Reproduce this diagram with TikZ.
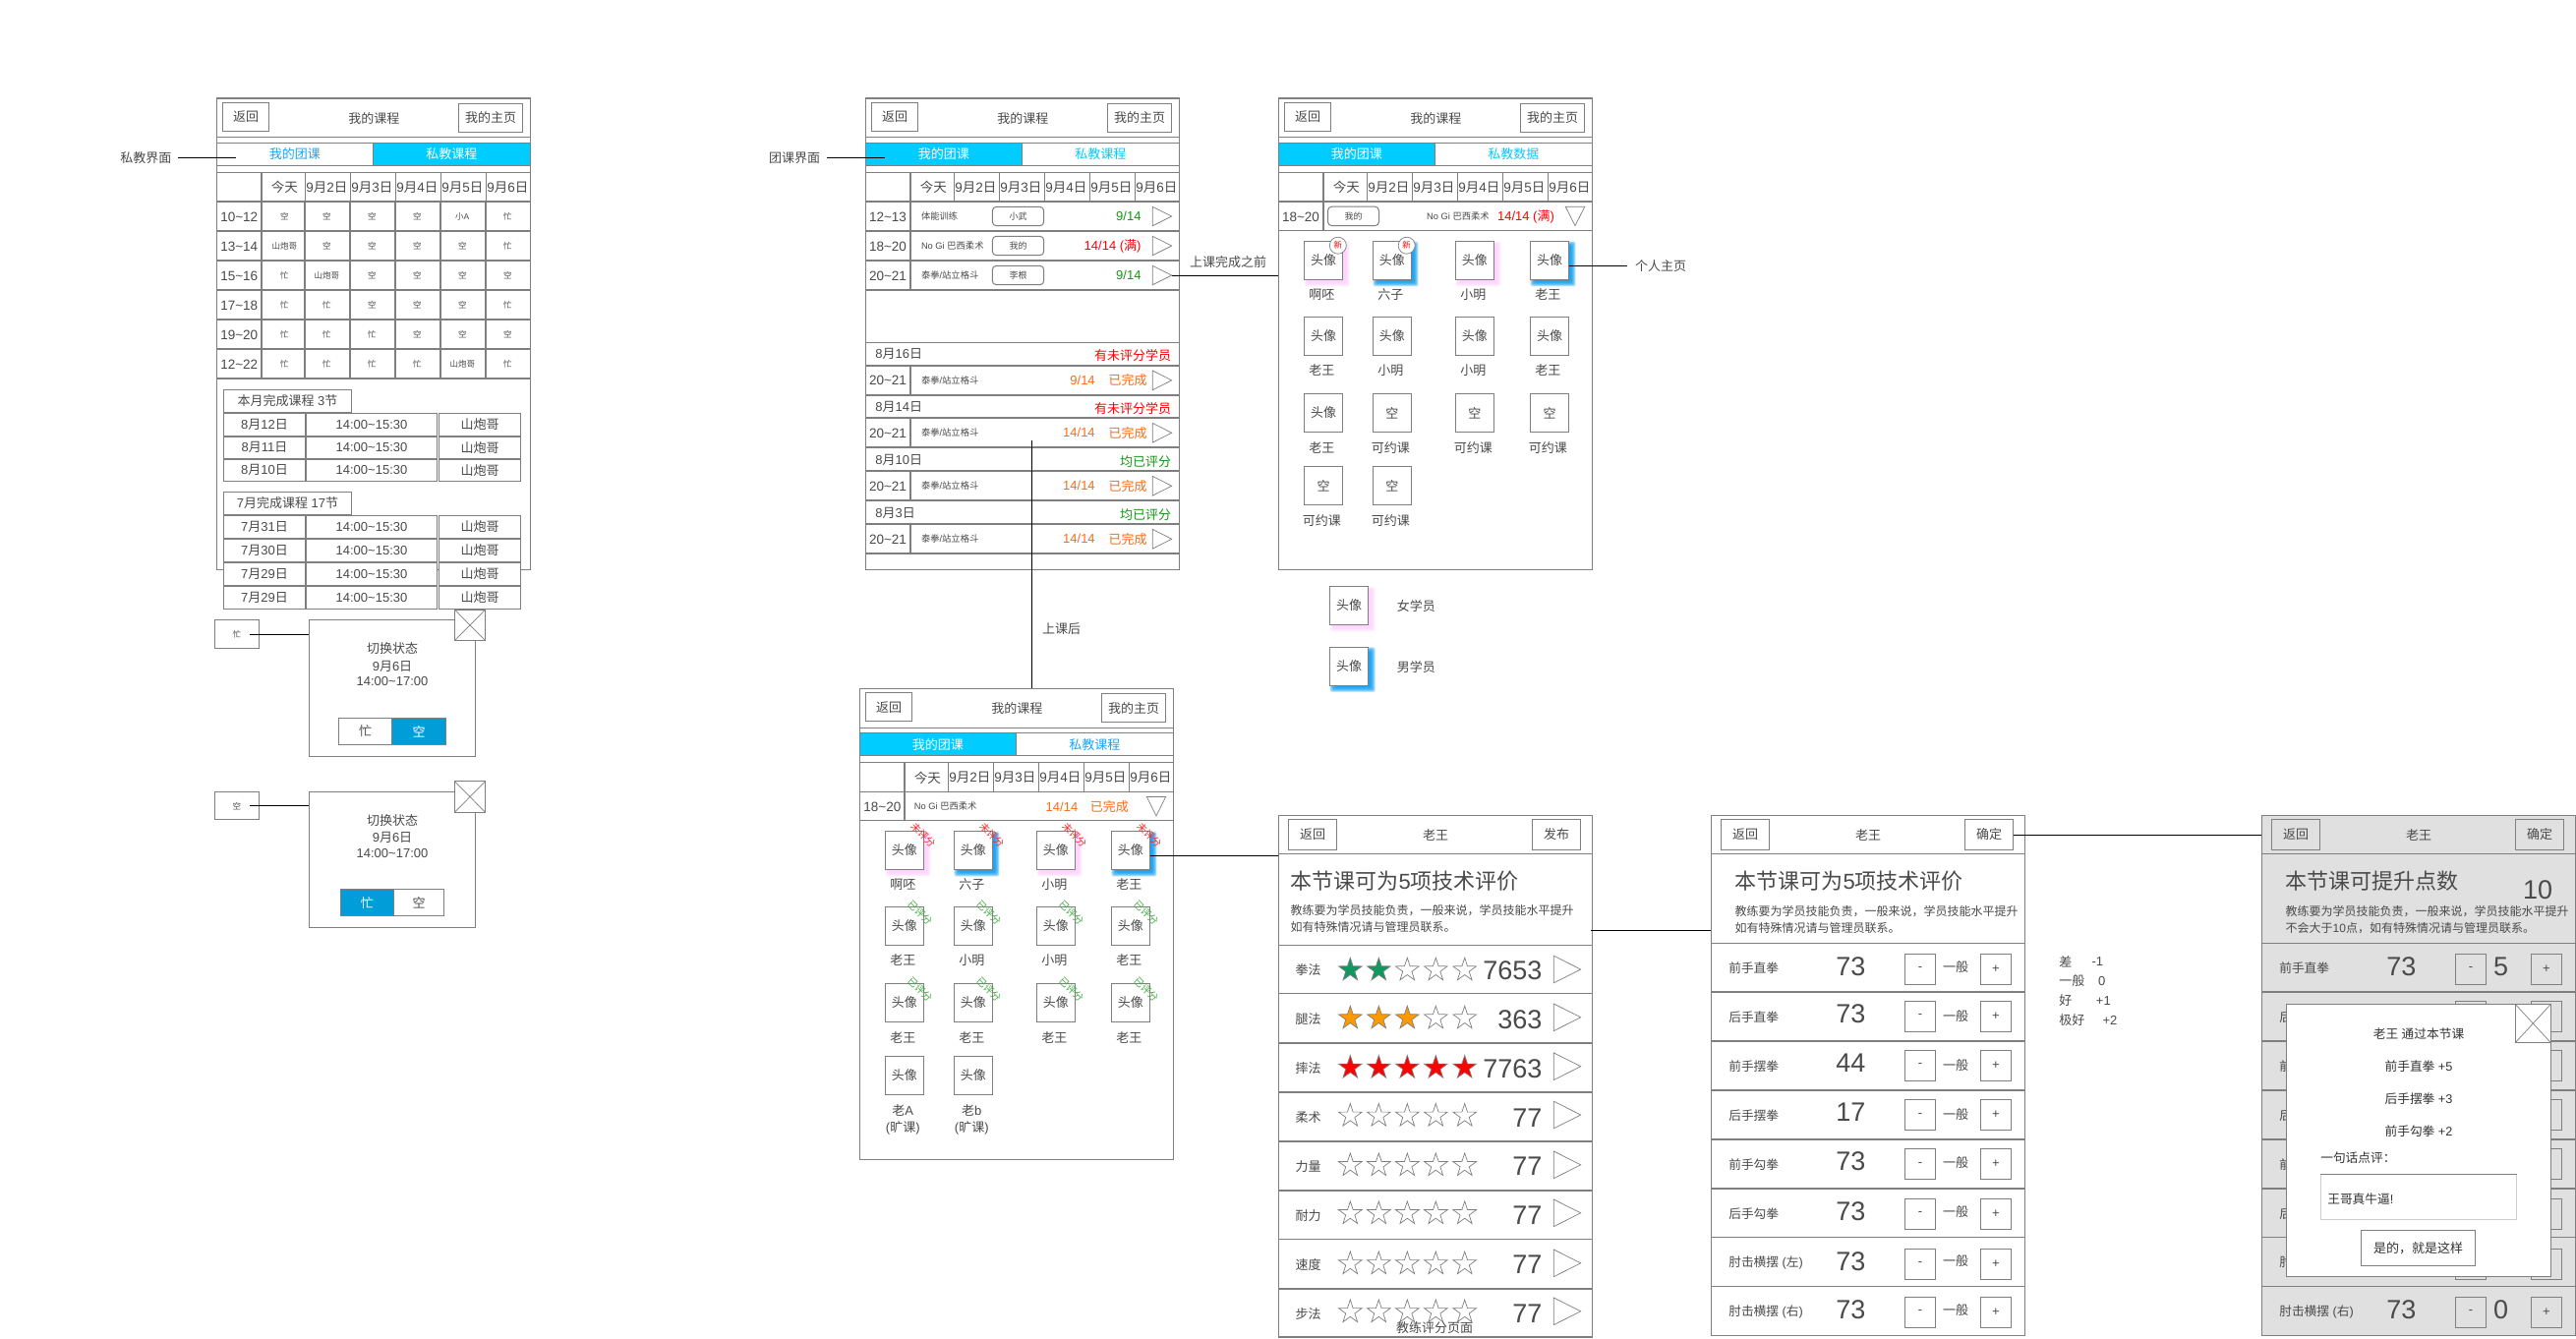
\documentclass[tikz,border=0pt]{standalone}
\usepackage{fontspec}
\setmainfont{Liberation Sans}
\newfontfamily\cjk{Noto Sans CJK SC}
\usetikzlibrary{shapes.geometric,positioning,calc}
% chinese runs switch font by themselves
\XeTeXinterchartokenstate=1
\newXeTeXintercharclass\cjkclass
\count255="3000
\loop\XeTeXcharclass\count255=\cjkclass\ifnum\count255<"9FFF\advance\count255 1\repeat
\count255="FF00
\loop\XeTeXcharclass\count255=\cjkclass\ifnum\count255<"FFEF\advance\count255 1\repeat
\XeTeXinterchartoks 0 \cjkclass={\begingroup\cjk}
\XeTeXinterchartoks 4095 \cjkclass={\begingroup\cjk}
\XeTeXinterchartoks \cjkclass 0={\endgroup}
\XeTeXinterchartoks \cjkclass 4095={\endgroup}
\newcommand{\tl}{\char"7E\relax}
\definecolor{linegray}{HTML}{7F7F7F}
\definecolor{textgray}{HTML}{4A4A4A}
\definecolor{tabblue}{HTML}{00CCFF}
\definecolor{tabtext}{HTML}{1AA3FF}
\definecolor{stateblue}{HTML}{009DD9}
\definecolor{okgreen}{HTML}{119911}
\definecolor{doneorange}{HTML}{FF6A13}
\definecolor{shadepink}{HTML}{FFD0FF}
\definecolor{shadeblue}{HTML}{0099F0}
\definecolor{panelgray}{HTML}{E0E0E0}
\definecolor{stargreen}{HTML}{0F9960}
\definecolor{starorange}{HTML}{FF9900}
\tikzset{
  fs/.style={font=\fontsize{#1}{#1}\selectfont},
  txt/.style={inner sep=0pt,outer sep=0pt,text=textgray,fs=13},
  btn/.style={draw=linegray,line width=1pt,fill=white,inner sep=0pt,outer sep=0pt,text=textgray,fs=13},
  screen/.style={btn,line width=1.2pt},
  tabon/.style={btn,fill=tabblue,text=white,fs=13},
  taboff/.style={btn,text=tabtext,fs=13},
  stateon/.style={btn,fill=stateblue,text=white,fs=13},
  stateoff/.style={btn,fs=13},
  pill/.style={btn,rounded corners=4pt,fs=9},
  thinline/.style={draw=linegray,line width=1pt},
  rowline/.style={draw=linegray,line width=1.7pt},
  link/.style={draw=black,line width=1pt},
  tri/.style={draw=linegray,line width=.7pt,fill=white},
  starbox/.style={star,star points=5,star point ratio=2.6,minimum size=25pt,inner sep=0pt,draw=linegray,line width=.7pt},
}
% style, name, x0, y0, x1, y1, text
\newcommand{\bx}[7]{%
  \pgfmathsetmacro\bxw{(#5)-(#3)}\pgfmathsetmacro\bxh{(#6)-(#4)}%
  \node[#1,minimum width=\bxw pt,minimum height=\bxh pt] (#2) at ({((#3)+(#5))/2},{((#4)+(#6))/2}) {#7};}
% name, x0, y0, x1, y1
\newcommand{\playtri}[5]{%
  \draw[tri] (#2,#3) -- ({#4},{(#3+#5)/2}) -- (#2,#5) -- cycle;
  \coordinate (#1) at ({#4},{(#3+#5)/2});}
% colour, x0, y0
\newcommand{\softshade}[3]{%
  \foreach \e in {3.5,3,2.5,2,1.5,1,.5,0,-.5,-1,-1.5}
    \fill[#1,opacity=.17,rounded corners=1.5pt] ({#2+3.5-\e},{#3+3.5-\e}) rectangle ({#2+39.3+3.5+\e},{#3+39+3.5+\e});}
% name, x0, y0, text
\newcommand{\avatar}[4]{\bx{btn,fs=13}{#1}{#2}{#3}{#2+39.3}{#3+39}{#4}}
% prefix, x, y, left tab style, right tab style, left text, right text
\newcommand{\schedhead}[7]{%
  \bx{screen}{#1frame}{#2}{#3}{#2+319}{#3+479.3}{}
  \bx{btn}{#1back}{#2+6}{#3+4.3}{#2+53.4}{#3+33.3}{返回}
  \bx{btn}{#1home}{#2+246}{#3+5.3}{#2+311.4}{#3+34.3}{我的主页}
  \node[txt,fs=13] (#1title) at ({#2+160},{#3+20.3}) {我的课程};
  \draw[thinline] ({#2},{#3+39.7}) -- ++(319,0);
  \bx{#4}{#1tabl}{#2}{#3+45.3}{#2+159}{#3+68.3}{#6}
  \bx{#5}{#1tabr}{#2+159}{#3+45.3}{#2+319}{#3+68.3}{#7}
  \draw[thinline] ({#2},{#3+75.3}) -- ++(319,0);
  \draw[rowline] ({#2},{#3+105}) -- ++(319,0);
  \draw[rowline] ({#2+46},{#3+75.3}) -- ++(0,29.7);
  \foreach \vx in {90,136,182,228,274}
    \draw[thinline] ({#2+\vx},{#3+75.3}) -- ++(0,29.7);
  \foreach \dn/\cx in {今天/69,9月2日/112,9月3日/158,9月4日/204,9月5日/250,9月6日/296}
    \node[txt,fs=13.5] (#1day\cx) at ({#2+\cx},{#3+90.5}) {\dn};}
% prefix, y, tag text, toggle x0, x1, x2, left style, right style
\newcommand{\statepopup}[8]{%
  \bx{btn}{#1tag}{218.3}{#2}{263.3}{#2+28.6}{\fontsize{8.5}{8.5}\selectfont #3}
  \bx{btn}{#1pop}{314.3}{#2}{483.7}{#2+138.6}{}
  \bx{btn}{#1close}{462.3}{#2-10.7}{493.7}{#2+21}{}
  \draw[thinline,line width=.7pt] (#1close.north west) -- (#1close.south east) (#1close.north east) -- (#1close.south west);
  \node[txt,fs=13] (#1a) at (399,{#2+29}) {切换状态};
  \node[txt] (#1b) at (399,{#2+46.8}) {9月6日};
  \node[txt] (#1c) at (399,{#2+62.8}) {14:00\tl 17:00};
  \bx{#7}{#1busy}{#4}{#2+99.6}{#5}{#2+126.6}{忙}
  \bx{#8}{#1free}{#5}{#2+99.6}{#6}{#2+126.6}{空}
  \coordinate (#1from) at (254,{#2+14.6});
  \draw[link] (#1from) -- (#1from -| #1pop.west);}
% prefix, x, fill, right button text, bottom
\newcommand{\detailhead}[5]{%
  \bx{screen,fill=#3}{#1frame}{#2}{829.3}{#2+319}{#5}{}
  \bx{btn,fill=#3}{#1back}{#2+10}{833.5}{#2+59.4}{864.5}{返回}
  \bx{btn,fill=#3}{#1right}{#2+258}{833.5}{#2+307.4}{864.5}{#4}
  \node[txt,fs=13] (#1title) at ({#2+159.7},849.7) {老王};
  \draw[thinline] (#2,868.3) -- ++(319,0);}
% prefix, x, fill
\newcommand{\skillrows}[3]{%
  \draw[thinline] (#2,959.4) -- ++(319,0);
  \foreach \skl/\ly/\by/\rl [count=\r] in {前手直拳/985/970.4/1009,后手直拳/1034.6/1018.4/1058.8,前手摆拳/1084.3/1068.4/1108.8,后手摆拳/1134.4/1118.5/1158.9,前手勾拳/1184.4/1168.5/1208.9,后手勾拳/1234.4/1219.2/1258.6,肘击横摆 (左)/1284.5/1270.3/1308.6,肘击横摆 (右)/1334.5/1319.3/1358.3}{
    \ifnum\r<8 \draw[rowline] (#2,\rl) -- ++(319,0);\fi
    \node[txt,anchor=west,fs=12.7] (#1lab\r) at ({#2+18},\ly) {\skl};
    \bx{btn,fill=#3,fs=13}{#1minus\r}{#2+197}{\by}{#2+228.4}{\by+31}{-}
    \bx{btn,fill=#3,fs=13}{#1plus\r}{#2+274}{\by}{#2+305.4}{\by+31}{+}
  }}
\begin{document}
\begin{tikzpicture}[x=1pt,y=-1pt]
\useasboundingbox (0,0) rectangle (2620,1361);
% private lessons screen
\schedhead{a}{220.3}{100}{taboff}{tabon}{我的团课}{私教课程}
\def\daycols{{69,112,158,204,250,296}}
\foreach \tm/\cells [count=\r] in {{10\tl 12}/{空,空,空,空,小A,忙},{13\tl 14}/{山炮哥,空,空,空,空,忙},{15\tl 16}/{忙,山炮哥,空,空,空,空},{17\tl 18}/{忙,忙,空,空,空,忙},{19\tl 20}/{忙,忙,忙,空,空,空},{12\tl 22}/{忙,忙,忙,忙,山炮哥,忙}}{
  \node[txt,fs=13.5] (atime\r) at (243.3,{190.5+30*\r}) {\tm};
  \foreach \c [count=\k] in \cells {
    \pgfmathsetmacro\cx{220.3+\daycols[\k-1]}
    \node[txt,fs=8.5] (acell\r\k) at (\cx,{190.5+30*\r}) {\c};
  }
  \draw[rowline] (220.3,{205+30*\r}) -- ++(319,0);
}
\foreach \vx in {46,90,136,182,228,274}
  \draw[rowline] ({220.3+\vx},205) -- (220.3+\vx,384.3);
\draw[thinline] (220.3,384.3) -- ++(319,0);
\bx{btn,fs=13}{amonth}{227.3}{396.4}{357.7}{419.3}{本月完成课程 3节}
\foreach \dt/\ya/\yb [count=\r] in {8月12日/420.4/443,8月11日/444/466.4,8月10日/467/489.3,7月31日/524.3/547,7月30日/548.2/571,7月29日/572/595.4,7月29日/596.4/619.3}{
  \bx{btn}{alistd\r}{227.3}{\ya}{310.7}{\yb}{\dt}
  \bx{btn}{alistt\r}{311.7}{\ya}{444.3}{\yb}{14:00\tl 15:30}
  \bx{btn}{alistn\r}{446.7}{\ya}{529.7}{\yb}{山炮哥}
}
\bx{btn,fs=13}{ajuly}{227.3}{500.4}{357.7}{523.2}{7月完成课程 17节}
\node[txt,fs=13] (lblprivate) at (148.3,160.4) {私教界面};
\coordinate (ataba) at (240,160.4);
\draw[link] (lblprivate.east) ++(7,0) -- (ataba);
\statepopup{p}{630.7}{忙}{344.3}{398.7}{453.7}{stateoff}{stateon}
\statepopup{q}{805.3}{空}{346.3}{400.3}{451.7}{stateon}{stateoff}
% group lessons screen
\schedhead{b}{880.3}{100}{tabon}{taboff,text=tabblue}{我的团课}{私教课程}
\foreach \tm/\cls/\tagname/\cnt/\cc [count=\r] in {{12\tl 13}/体能训练/小武/9\slash 14/okgreen,{18\tl 20}/No Gi 巴西柔术/我的/14\slash 14 (满)/red,{20\tl 21}/泰拳\slash 站立格斗/李根/9\slash 14/okgreen}{
  \pgfmathsetmacro\ry{190+30*\r}
  \node[txt,fs=13.5] (btime\r) at (903,\ry+.5) {\tm};
  \node[txt,anchor=west,fs=9.3] (bcls\r) at (937,\ry) {\cls};
  \bx{pill}{btag\r}{1009.3}{\ry-9.7}{1061.7}{\ry+9.7}{\tagname}
  \node[txt,anchor=east,text=\cc,fs=13] (bcnt\r) at (1160.5,\ry) {\cnt};
  \playtri{btri\r}{1172.3}{\ry-9.7}{1191.7}{\ry+9.7}
  \draw[rowline] (880.3,\ry+15) -- ++(319,0);
  \draw[rowline] (926.3,\ry-15) -- ++(0,30);
}
\draw[thinline] (880.3,348.3) -- ++(319,0);
\foreach \dt/\st/\sc/\cnt/\ty [count=\r] in {8月16日/有未评分学员/red/9\slash 14/348.3,8月14日/有未评分学员/red/14\slash 14/401.7,8月10日/均已评分/okgreen/14\slash 14/455.7,8月3日/均已评分/okgreen/14\slash 14/509.7}{
  \node[txt,anchor=west] (bdate\r) at (890.3,\ty+12) {\dt};
  \node[txt,anchor=east,text=\sc,fs=13] (bstat\r) at (1191,\ty+13.4) {\st};
  \draw[rowline] (880.3,\ty+23.4) -- ++(319,0);
  \node[txt,fs=13.5] (bhist\r) at (903,\ty+38.9) {20\tl 21};
  \node[txt,anchor=west,fs=9.3] (bhcls\r) at (937,\ty+38.4) {泰拳\slash 站立格斗};
  \node[txt,anchor=east,text=doneorange,fs=13] (bhcnt\r) at (1113.7,\ty+38.4) {\cnt};
  \node[txt,anchor=west,text=doneorange,fs=13] (bhdone\r) at (1127.7,\ty+38.4) {已完成};
  \playtri{bhtri\r}{1172.3}{\ty+28.7}{1191.7}{\ty+48.4}
  \draw[rowline] (880.3,\ty+53.4) -- ++(319,0);
  \draw[rowline] (926.3,\ty+23.4) -- ++(0,30);
}
\node[txt,fs=13] (lblgroup) at (808,160.3) {团课界面};
\coordinate (btaba) at (900,160.3);
\draw[link] (lblgroup.east) ++(7,0) -- (btaba);
% before the lesson
\schedhead{c}{1300.3}{100}{tabon}{taboff,text=tabblue}{我的团课}{私教数据}
\node[txt,fs=13.5] (ctime) at (1323,220.5) {18\tl 20};
\bx{pill}{ctag}{1350.5}{210.2}{1402.5}{229.6}{我的}
\node[txt,fs=9.3] (ccls) at (1483,219.7) {No Gi 巴西柔术};
\node[txt,text=red,fs=13] (ccnt) at (1552,220.5) {14\slash 14 (满)};
\draw[tri] (1592.2,210.2) -- (1611.8,210.2) -- (1602,229.6) -- cycle;
\draw[thinline] (1300.3,234.7) -- ++(319,0);
\draw[rowline] (1346.3,205) -- ++(0,29.7);
\softshade{shadepink}{1326.4}{245.4}
\softshade{shadeblue}{1396.3}{245.4}
\softshade{shadepink}{1480.3}{245.4}
\softshade{shadeblue}{1556.4}{245.4}
\foreach \ay/\ny/\cells [count=\r] in {245.4/299.6/{头像/啊呸,头像/六子,头像/小明,头像/老王},322.5/376.7/{头像/老王,头像/小明,头像/小明,头像/老王},400.4/455.4/{头像/老王,空/可约课,空/可约课,空/可约课},474.3/529.3/{空/可约课,空/可约课}}{
  \foreach \face/\who [count=\k] in \cells {
    \pgfmathsetmacro\ax{{1326.4,1396.3,1480.3,1556.4}[\k-1]}
    \avatar{cav\r\k}{\ax}{\ay}{\face}
    \node[txt,fs=13] (cname\r\k) at (\ax+18,\ny) {\who};
  }
}
\foreach \cx/\k in {1360.8/1,1430.7/2}
  \node[circle,draw=linegray,line width=.7pt,fill=white,minimum size=17pt,inner sep=0pt,text=red,fs=8.5] (cnew\k) at (\cx,249.7) {新};
\softshade{shadepink}{1352.5}{596.5}
\softshade{shadeblue}{1352.5}{658.2}
\avatar{cgirl}{1352.5}{596.5}{头像}
\avatar{cboy}{1352.5}{658.2}{头像}
\node[txt,fs=13] (lblgirl) at (1440.4,616.3) {女学员};
\node[txt,fs=13] (lblboy) at (1440.4,678.4) {男学员};
\node[txt,fs=13] (lblbefore) at (1249.2,266.4) {上课完成之前};
\draw[link] (btri3) -- (btri3 -| cframe.west);
\node[txt,fs=13] (lblhome) at (1689,270.3) {个人主页};
\draw[link,shorten >=8pt] (cav14.east |- lblhome.west) -- (lblhome.west);
% after the lesson
\schedhead{d}{874.3}{700.4}{tabon}{taboff}{我的团课}{私教课程}
\node[txt,fs=13.5] (dtime) at (897.3,820.5) {18\tl 20};
\node[txt,fs=9.3] (dcls) at (961.7,819.6) {No Gi 巴西柔术};
\node[txt,text=doneorange,fs=13] (dcnt) at (1080,820.4) {14\slash 14};
\node[txt,text=doneorange,fs=13] (ddone) at (1128.3,820.4) {已完成};
\draw[tri] (1166.3,810.5) -- (1185.7,810.5) -- (1176,829.8) -- cycle;
\draw[thinline] (874.3,834.5) -- ++(319,0);
\draw[rowline] (920.3,804.7) -- ++(0,29.8);
\softshade{shadepink}{900.3}{845.5}
\softshade{shadeblue}{970.3}{845.5}
\softshade{shadepink}{1054.3}{845.5}
\softshade{shadeblue}{1130.3}{845.5}
\foreach \ay/\ny/\cells [count=\r] in {845.5/899.6/{啊呸,六子,小明,老王},922.5/976.7/{老王,小明,小明,老王},1000.4/1055.6/{老王,老王,老王,老王},1074.5/1129.8/{老A,老b}}{
  \foreach \who [count=\k] in \cells {
    \pgfmathsetmacro\ax{{900.3,970.3,1054.3,1130.3}[\k-1]}
    \avatar{dav\r\k}{\ax}{\ay}{头像}
    \node[txt,fs=13] (dname\r\k) at (\ax+18,\ny) {\who};
    \ifnum\r=1
      \node[txt,fs=10,text=red!85,rotate=-45] (dmark\r\k) at (\ax+38.7,\ay+4) {未评分};
    \fi
    \ifnum\r>1 \ifnum\r<4
      \node[txt,fs=10,text=okgreen!80,rotate=-45] (dmark\r\k) at (\ax+35.4,\ay+5.9) {已评分};
    \fi\fi
  }
}
\node[txt,fs=13] (dabs1) at (918.3,1147.3) {(旷课)};
\node[txt,fs=13] (dabs2) at (988.3,1147.3) {(旷课)};
\coordinate (bdown) at (1049.3,448.3);
\draw[link] (bdown) -- (bdown |- dframe.north);
\node[txt,fs=13] (lblafter) at (1079.7,639.6) {上课后};
% coach rating
\detailhead{e}{1300.3}{white}{发布}{1360}
\node[txt,anchor=west,fs=22] (ehead) at (1312.7,896) {本节课可为5项技术评价};
\node[txt,anchor=west,fs=12] (edesa) at (1312.7,926.3) {教练要为学员技能负责，一般来说，学员技能水平提升};
\node[txt,anchor=west,fs=12] (edesb) at (1312.7,943.2) {如有特殊情况请与管理员联系。};
\draw[thinline] (1300.3,961.5) -- ++(319,0);
\foreach \skl/\nv/\nf/\col/\ly/\sy/\ty/\rl [count=\r] in {拳法/7653/2/stargreen/987/986.7/972.2/1010.5,腿法/363/3/starorange/1036.7/1035.7/1021/1060.9,摔法/7763/5/red/1086.7/1086/1070.9/1111.2,柔术/77/0/white/1136.8/1135/1120.2/1160.9,力量/77/0/white/1186.5/1185.4/1171/1211,耐力/77/0/white/1236.5/1234.4/1220/1260.6,速度/77/0/white/1286.5/1285.5/1271/1310.7,步法/77/0/white/1336.5/1334.5/1320/1360}{
  \node[txt] (elab\r) at (1330.7,\ly) {\skl};
  \foreach \sx [count=\k] in {1373.3,1402.3,1431.3,1460.3,1489.7}{
    \ifnum\k>\nf\def\sfill{white}\else\let\sfill\col\fi
    \node[starbox,fill=\sfill] (estar\r\k) at (\sx,\sy) {};
  }
  \node[txt,anchor=east,fs=27] (enum\r) at (1568.3,\ly) {\nv};
  \playtri{etri\r}{1580.3}{\ty}{1607.7}{\ty+27.6}
  \ifnum\r<8 \draw[rowline] (1300.3,\rl) -- ++(319,0);\fi
}
\node[txt,fs=13] (ecap) at (1459,1350.4) {教练评分页面};
\coordinate (dto) at (1170,870);
\draw[link] (dto) -- (dto -| eframe.west);
% skill points
\detailhead{f}{1740.3}{white}{确定}{1358.3}
\node[txt,anchor=west,fs=22] (fhead) at (1764.7,896.6) {本节课可为5项技术评价};
\node[txt,anchor=west,fs=12] (fdesa) at (1764.7,927) {教练要为学员技能负责，一般来说，学员技能水平提升};
\node[txt,anchor=west,fs=12] (fdesb) at (1764.7,944.2) {如有特殊情况请与管理员联系。};
\skillrows{f}{1740.3}{white}
\foreach \nv/\ny/\oy [count=\r] in {73/982.9/983.9,73/1031.2/1034,44/1081.2/1083.3,17/1130.9/1133.3,73/1181/1183,73/1231.7/1233,73/1282.7/1283,73/1332/1333}{
  \node[txt,fs=27] (fnum\r) at (1882.3,\ny) {\nv};
  \node[txt,fs=13] (fmid\r) at (1989,\oy) {一般};
}
\foreach \nm/\pts/\px/\ly [count=\r] in {差/-1/2133.3/978,一般/0/2137.7/998,好/+1/2139.3/1017.7,极好/+2/2146/1037.7}{
  \node[txt,anchor=west,fs=13] (fkey\r) at (2094.3,\ly) {\nm};
  \node[txt,fs=13] (fval\r) at (\px,\ly) {\pts};
}
\coordinate (eto) at (1618,946.4);
\draw[link] (eto) -- (eto -| fframe.west);
% points dialog
\detailhead{g}{2300.3}{panelgray}{确定}{1358.3}
\node[txt,anchor=west,fs=22] (ghead) at (2324.7,896.6) {本节课可提升点数};
\node[txt,fs=27] (gtotal) at (2581,905) {10};
\node[txt,anchor=west,fs=12] (gdesa) at (2324.7,927) {教练要为学员技能负责，一般来说，学员技能水平提升};
\node[txt,anchor=west,fs=12] (gdesb) at (2324.7,944.2) {不会大于10点，如有特殊情况请与管理员联系。};
\skillrows{g}{2300.3}{panelgray}
\node[txt,fs=27] (gnum1) at (2442.3,982.9) {73};
\node[txt,fs=27] (gnum8) at (2442.3,1332) {73};
\node[txt,fs=27] (gpts1) at (2543.7,982.9) {5};
\node[txt,fs=27] (gpts8) at (2543.7,1332) {0};
\bx{btn}{gpop}{2325.3}{1021.5}{2594.3}{1298.3}{}
\bx{btn}{gclose}{2558.3}{1021.5}{2594.3}{1060.5}{}
\draw[thinline,line width=.7pt] (gclose.north west) -- (gclose.south east) (gclose.north east) -- (gclose.south west);
\foreach \line/\ly [count=\r] in {老王 通过本节课/1051.5,前手直拳 +5/1084.7,后手摆拳 +3/1117.4,前手勾拳 +2/1150.6}
  \node[txt,text=black!80,fs=12.7] (gline\r) at (2460,\ly) {\line};
\node[txt,anchor=west,text=black!80,fs=12.7] (gask) at (2360.3,1177.8) {一句话点评：};
\bx{btn,draw=black!20}{ginput}{2360.3}{1194.4}{2559.7}{1240.3}{}
\draw[thinline] (ginput.north west) -- (ginput.north east);
\node[txt,anchor=west,text=black!80,fs=12.7] (gword) at (2367.3,1219.2) {王哥真牛逼!};
\bx{btn,text=black!80}{gyes}{2401.3}{1251.3}{2517.7}{1287.6}{是的，就是这样}
\draw[link] (fright.east) -- (fright.east -| gframe.west);
\end{tikzpicture}
\end{document}
